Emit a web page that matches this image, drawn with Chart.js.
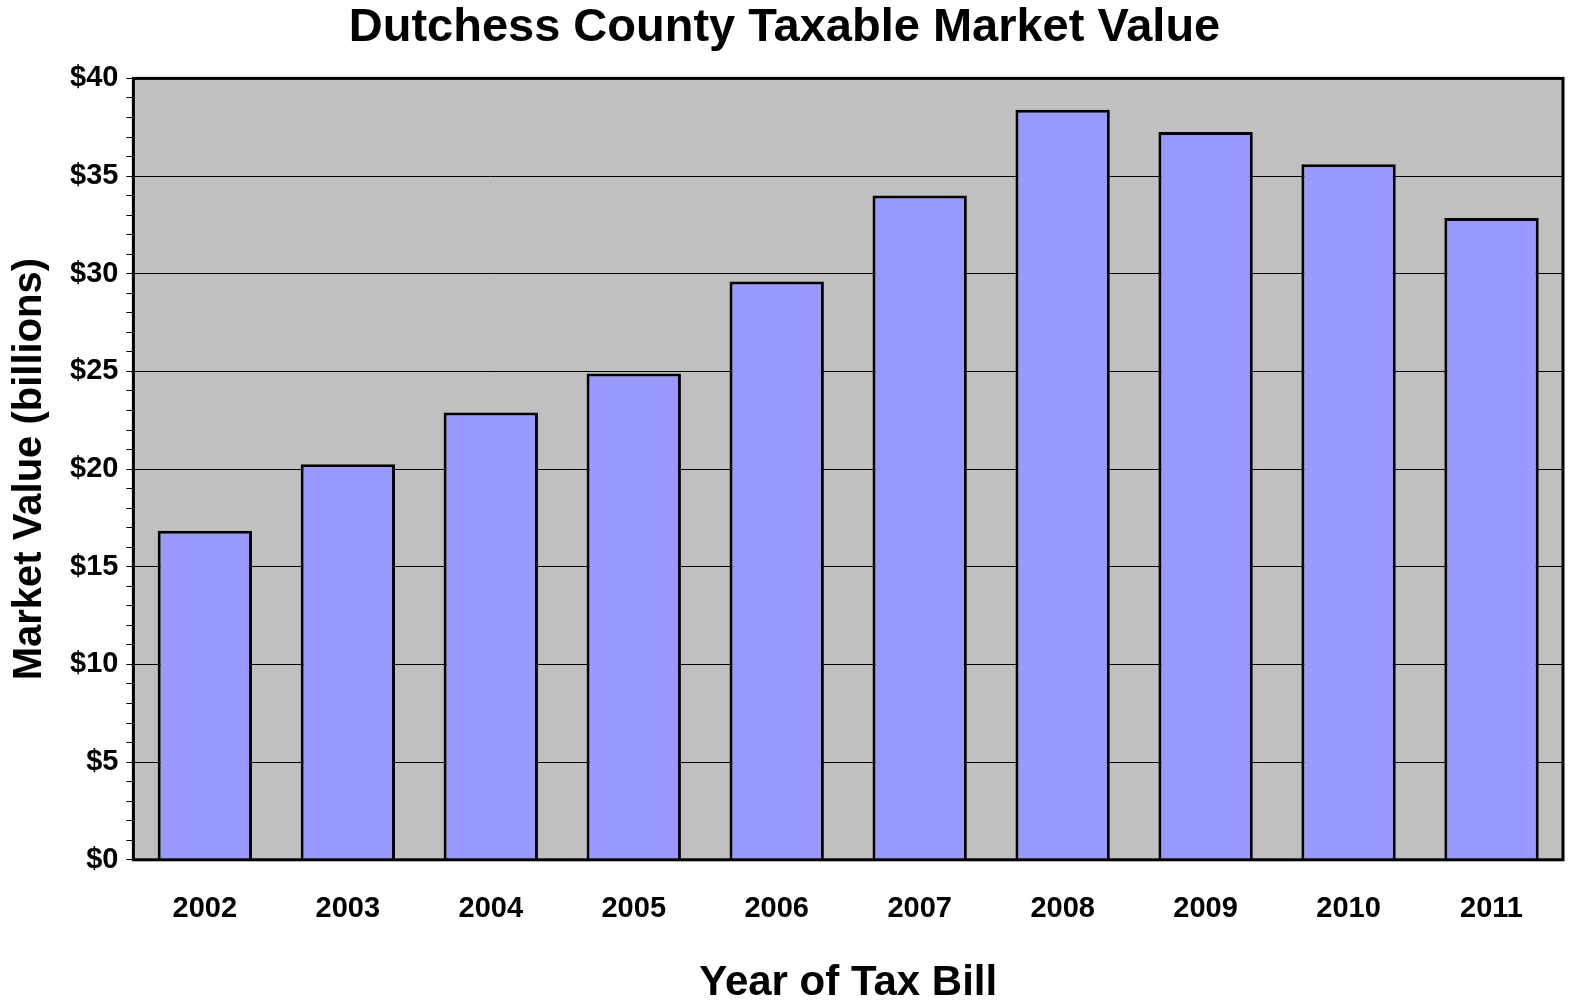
<!DOCTYPE html>
<html>
<head>
<meta charset="utf-8">
<script src="https://cdn.jsdelivr.net/npm/chart.js@4"></script>
<style>
  html, body { margin: 0; padding: 0; background: #fff; }
  #wrap { width: 1571px; height: 1001px; }
</style>
</head>
<body>
<div id="wrap"><canvas id="chart"></canvas></div>
<script>
// dados
const anos = ['2002', '2003', '2004', '2005', '2006', '2007', '2008', '2009', '2010', '2011'];
const valores = [16.85, 20.25, 22.9, 24.9, 29.6, 34.0, 38.4, 37.25, 35.6, 32.85];
const yMin = 0;
const yMax = 40;

// fundo cinza da area do grafico
const fundoPlot = {
  id: 'fundoPlot',
  beforeDraw(chart) {
    const { ctx, chartArea: a } = chart;
    ctx.save();
    ctx.fillStyle = '#C0C0C0';
    ctx.fillRect(a.left, a.top, a.right - a.left, a.bottom - a.top);
    ctx.restore();
  },
  afterDraw(chart) {
    const { ctx, chartArea: a } = chart;
    ctx.save();
    ctx.strokeStyle = '#000';
    ctx.lineWidth = 3;
    ctx.strokeRect(a.left, a.top, a.right - a.left, a.bottom - a.top);
    ctx.restore();
  }
};

new Chart(document.getElementById('chart'), {
  type: 'bar',
  data: {
    labels: anos,
    datasets: [{
      data: valores,
      backgroundColor: '#9999FF',
      borderColor: '#000',
      borderWidth: 3,
      borderSkipped: 'bottom',
      barPercentage: 0.66,
      categoryPercentage: 1
    }]
  },
  options: {
    responsive: true,
    maintainAspectRatio: false,
    animation: false,
    layout: { padding: { top: 0, right: 8, bottom: -8, left: 6 } },
    plugins: {
      legend: { display: false },
      tooltip: { enabled: false },
      title: {
        display: true,
        text: 'Dutchess County Taxable Market Value',
        color: '#000',
        font: { family: 'Arial, "Liberation Sans"', size: 47, weight: 'bold' },
        padding: { top: 0, bottom: 22 }
      }
    },
    scales: {
      x: {
        grid: { display: false, drawTicks: false },
        border: { display: false },
        ticks: {
          color: '#000',
          padding: 32,
          font: { family: 'Arial, "Liberation Sans"', size: 29, weight: 'bold' }
        },
        title: {
          display: true,
          text: 'Year of Tax Bill',
          color: '#000',
          padding: { top: 0, bottom: 0 },
          font: { family: 'Arial, "Liberation Sans"', size: 42, weight: 'bold' }
        }
      },
      y: {
        min: yMin,
        max: yMax,
        grid: {
          color: c => (c.tick && c.tick.value % 5 === 0 && c.tick.value > 0 && c.tick.value < 40) ? '#000' : 'rgba(0,0,0,0)',
          lineWidth: 1,
          tickColor: '#000',
          tickLength: 7
        },
        border: { display: false },
        ticks: {
          stepSize: 1,
          autoSkip: false,
          color: '#000',
          padding: 8,
          callback: v => v % 5 === 0 ? '$' + v : '',
          font: { family: 'Arial, "Liberation Sans"', size: 29, weight: 'bold' }
        },
        title: {
          display: true,
          text: 'Market Value (billions)',
          color: '#000',
          padding: { top: 0, bottom: 8 },
          font: { family: 'Arial, "Liberation Sans"', size: 40, weight: 'bold' }
        }
      }
    }
  },
  plugins: [fundoPlot]
});
</script>
</body>
</html>
